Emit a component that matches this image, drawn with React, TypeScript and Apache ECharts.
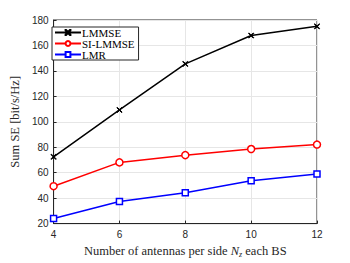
import React, { useEffect, useRef } from "react";
import * as echarts from "echarts";

const antennas = [4, 6, 8, 10, 12];
const lmmse = [72.5, 109.3, 145.5, 167.8, 175];
const siLmmse = [49.4, 68.1, 73.8, 78.6, 82.1];
const lmr = [24, 37.4, 44.2, 53.7, 59];
const seriesNames = ["LMMSE", "SI-LMMSE", "LMR"];

const crossPath = "path://M0,0L1,0L10,9L10,10L9,10L0,1ZM10,0L10,1L1,10L0,10L0,9L9,0Z";

export default function App() {
  const ref = useRef<HTMLDivElement>(null);
  useEffect(() => {
    if (!ref.current) return;
    const chart = echarts.init(ref.current, null, { renderer: "svg" });
    const mk = (data: number[]) => data.map((v, i) => [antennas[i], v]);
    chart.setOption({
      animation: false,
      grid: { left: 45, right: 33, top: 20, bottom: 31, show: true, borderColor: "#262626", borderWidth: 1 },
      legend: {
        left: 52,
        top: 27,
        orient: "vertical",
        itemGap: 0,
        itemWidth: 26,
        itemHeight: 6,
        padding: [0, 4, 0, 2],
        borderColor: "#262626",
        borderWidth: 1,
        backgroundColor: "#fff",
        textStyle: { fontFamily: "Liberation Serif", fontSize: 11, color: "#000", padding: [0, 0, 0, -4] },
        data: seriesNames,
      },
      xAxis: {
        type: "value",
        min: 4,
        max: 12,
        interval: 2,
        name: "Number of antennas per side {i|N}{s|z} each BS",
        nameLocation: "middle",
        nameGap: 18,
        nameTextStyle: {
          fontFamily: "Liberation Serif",
          fontSize: 12.5,
          color: "#262626",
          rich: {
            i: { fontFamily: "Liberation Serif", fontStyle: "italic", fontSize: 12.5, color: "#262626" },
            s: { fontFamily: "Liberation Serif", fontStyle: "italic", fontSize: 8, color: "#262626", verticalAlign: "bottom", padding: [6, 0, 0, 0] },
          },
        },
        axisLine: { lineStyle: { color: "#262626" } },
        axisTick: { inside: true, length: 3, lineStyle: { color: "#262626" } },
        axisLabel: { fontFamily: "Liberation Sans", fontSize: 10, color: "#262626", margin: 6 },
        splitLine: { show: true, lineStyle: { color: "#e6e6e6" } },
      },
      yAxis: {
        type: "value",
        min: 20,
        max: 180,
        interval: 20,
        name: "Sum SE [bit/s/Hz]",
        nameLocation: "middle",
        nameGap: 24,
        nameTextStyle: { fontFamily: "Liberation Serif", fontSize: 12.5, color: "#262626" },
        axisLine: { show: true, lineStyle: { color: "#262626" } },
        axisTick: { show: true, inside: true, length: 3, lineStyle: { color: "#262626" } },
        axisLabel: { fontFamily: "Liberation Sans", fontSize: 10, color: "#262626", margin: 5 },
        splitLine: { show: true, lineStyle: { color: "#e6e6e6" } },
      },
      series: [
        {
          name: seriesNames[0],
          type: "line",
          data: mk(lmmse),
          symbol: crossPath,
          symbolSize: 5,
          lineStyle: { color: "#000", width: 1.5 },
          itemStyle: { color: "#000", borderColor: "#000", borderWidth: 1 },
        },
        {
          name: seriesNames[1],
          type: "line",
          data: mk(siLmmse),
          symbol: "circle",
          symbolSize: 7,
          lineStyle: { color: "#ff0000", width: 1.5 },
          itemStyle: { color: "#fff", borderColor: "#ff0000", borderWidth: 1.5 },
        },
        {
          name: seriesNames[2],
          type: "line",
          data: mk(lmr),
          symbol: "rect",
          symbolSize: 6,
          lineStyle: { color: "#0000ff", width: 1.5 },
          itemStyle: { color: "#fff", borderColor: "#0000ff", borderWidth: 1.5 },
        },
      ],
    });
    return () => chart.dispose();
  }, []);
  return <div ref={ref} style={{ width: 350, height: 263, position: "absolute", left: 0, top: 0 }} />;
}
